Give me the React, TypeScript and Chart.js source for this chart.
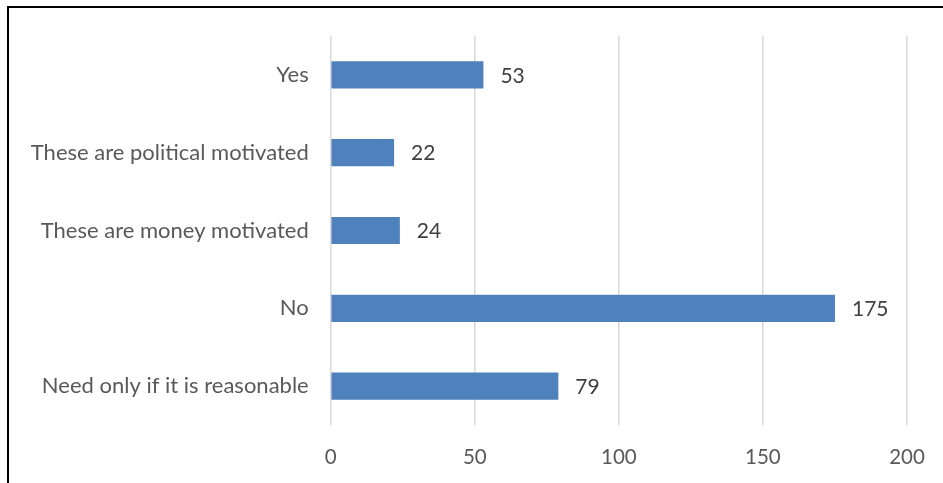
import React, { useEffect, useRef } from "react";
import { Chart, registerables } from "chart.js";

Chart.register(...registerables);

const categories = [
  "Yes",
  "These are political motivated",
  "These are money motivated",
  "No",
  "Need only if it is reasonable",
];
const values = [53, 22, 24, 175, 79];
const xTicks = [0, 50, 100, 150, 200];

const FONT = "Lato, 'Open Sans', sans-serif";

const framePlugin = {
  id: "frame",
  beforeDraw(chart: any) {
    const ctx = chart.ctx;
    ctx.save();
    ctx.fillStyle = "#ffffff";
    ctx.fillRect(0, 0, chart.width, chart.height);
    ctx.fillStyle = "#000000";
    ctx.fillRect(7, 6, chart.width - 7, 2);
    ctx.fillRect(7, 6, 2, chart.height - 6);
    ctx.restore();
  },
};

const labelPlugin = {
  id: "valueLabels",
  afterDatasetsDraw(chart: any) {
    const ctx = chart.ctx;
    const meta = chart.getDatasetMeta(0);
    ctx.save();
    ctx.font = `21px ${FONT}`;
    ctx.fillStyle = "#404040";
    ctx.textAlign = "left";
    ctx.textBaseline = "middle";
    meta.data.forEach((bar: any, i: number) => {
      ctx.fillText(String(values[i]), bar.x + 17, bar.y + 1);
    });
    ctx.restore();
  },
};

export default function App() {
  const ref = useRef<HTMLCanvasElement | null>(null);
  useEffect(() => {
    document.body.style.margin = "0";
    const canvas = ref.current!;
    const chart = new Chart(canvas, {
      type: "bar",
      data: {
        labels: categories,
        datasets: [
          {
            data: values,
            backgroundColor: "#4F81BD",
            borderColor: "#4F81BD",
            borderWidth: 0,
            barPercentage: 0.35,
            categoryPercentage: 1,
          },
        ],
      },
      options: {
        indexAxis: "y",
        animation: false,
        responsive: false,
        devicePixelRatio: 1,
        layout: { padding: { left: 0, right: 36, top: 36, bottom: 0 } },
        plugins: {
          legend: { display: false },
          tooltip: { enabled: false },
        },
        scales: {
          x: {
            min: 0,
            max: 200,
            afterBuildTicks(scale: any) {
              scale.ticks = xTicks.map((v) => ({ value: v }));
            },
            afterFit(scale: any) {
              scale.height = 58;
            },
            grid: {
              color: "#D9D9D9",
              lineWidth: 1.5,
              drawTicks: true,
              tickLength: 18,
              tickColor: "rgba(0,0,0,0)",
            },
            border: { display: false },
            ticks: {
              padding: 2,
              color: "#595959",
              font: { family: FONT, size: 20.5 },
            },
          },
          y: {
            afterFit(scale: any) {
              scale.width = 330.7;
            },
            grid: { display: false, drawTicks: false },
            border: { display: false },
            ticks: {
              padding: 22,
              color: "#595959",
              font: { family: FONT, size: 22 },
            },
          },
        },
      },
      plugins: [framePlugin, labelPlugin],
    });
    return () => chart.destroy();
  }, []);
  return (
    <div style={{ position: "absolute", left: 0, top: 0, width: 943, height: 483 }}>
      <canvas ref={ref} width={943} height={483} />
    </div>
  );
}
